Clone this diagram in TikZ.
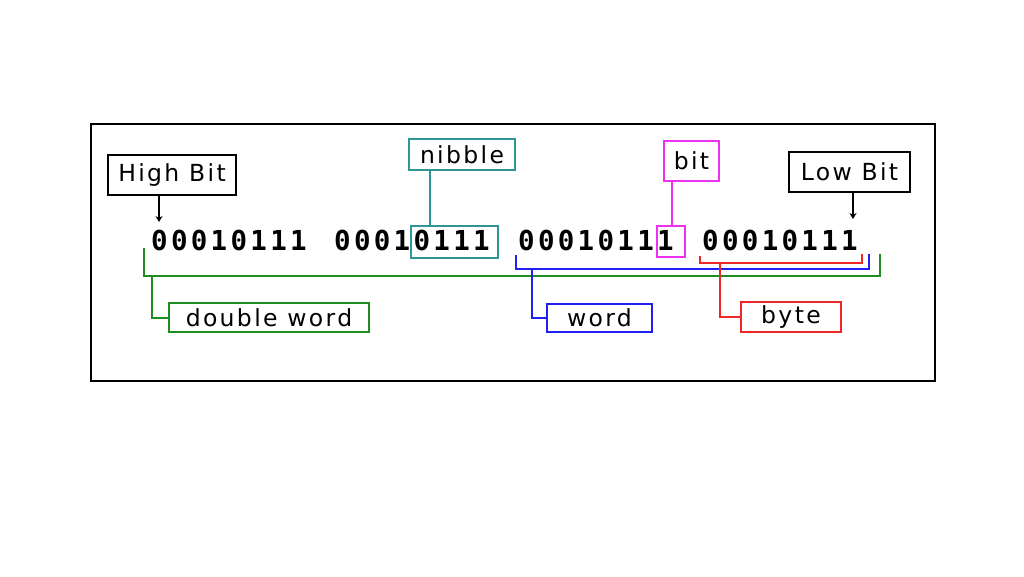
\documentclass[tikz,border=0pt]{standalone}
\usepackage{fontspec}
\setmainfont{DejaVu Sans}[LetterSpace=10]
\newfontfamily\digitfont{DejaVu Sans Mono}[LetterSpace=12]
\usetikzlibrary{arrows.meta}
\definecolor{cgreen}{HTML}{1E8C1E}
\definecolor{cteal}{HTML}{2E9696}
\definecolor{cmag}{HTML}{F030F0}
\definecolor{cblue}{HTML}{2020F0}
\definecolor{cred}{HTML}{F02828}
\tikzset{
  lbl/.style={draw=#1, line width=2pt, inner sep=0pt, font=\fontsize{23.5}{28}\selectfont, text=black},
  conn/.style={draw=#1, line width=2pt},
  digits/.style={inner sep=0pt, anchor=base west, font=\digitfont\bfseries\fontsize{27.5}{30}\selectfont},
  hl/.style={draw=#1, line width=2pt, inner sep=0pt},
  pointer/.style={draw=black, line width=1.2pt, -{Stealth[length=6pt,width=7pt]}}
}
\begin{document}
\begin{tikzpicture}[x=1pt,y=-1pt]
\useasboundingbox (0,0) rectangle (1024,576);
\fill[white] (0,0) rectangle (1024,576);
\draw[line width=2pt] (91,124) rectangle (935,381);
% digit groups
\node[digits] (g1) at (151,250) {00010111};
\node[digits] (g2) at (334,250) {00010111};
\node[digits] (g3) at (518,250) {00010111};
\node[digits] (g4) at (702,250) {00010111};
% labels
\node[lbl=black, minimum width=128pt, minimum height=40pt] (hb) at (172,175) {High Bit};
\node[lbl=black, minimum width=121pt, minimum height=40pt] (lb) at (849.5,172) {Low Bit};
\node[lbl=cteal, minimum width=106pt, minimum height=31pt] (nib) at (462,154.5) {nibble};
\node[lbl=cmag, minimum width=55pt, minimum height=40pt] (bitl) at (691.5,161) {bit};
\node[lbl=cgreen, minimum width=200pt, minimum height=29pt] (dw) at (269,317.5) {double word};
\node[lbl=cblue, minimum width=105pt, minimum height=28pt] (wd) at (599.5,318) {word};
\node[lbl=cred, minimum width=100pt, minimum height=30pt] (by) at (791,317) {byte};
% highlight boxes
\node[hl=cteal, minimum width=87pt, minimum height=32pt] (nibbox) at (454.5,242) {};
\node[hl=cmag, minimum width=28pt, minimum height=31pt] (bitbox) at (671,241.5) {};
% pointers
\coordinate (hbx) at (159,0);
\coordinate (hbt) at (159,222);
\draw[pointer] (hb.south -| hbx) -- (hbt);
\coordinate (lbx) at (853,0);
\coordinate (lbt) at (853,219);
\draw[pointer] (lb.south -| lbx) -- (lbt);
\coordinate (nx) at (430,0);
\draw[conn=cteal] (nib.south -| nx) -- (nibbox.north -| nx);
\coordinate (bx) at (672,0);
\draw[conn=cmag] (bitl.south -| bx) -- (bitbox.north -| bx);
% brackets
\coordinate (gA) at (144,248);
\coordinate (gB) at (880,254);
\coordinate (gy) at (0,276);
\draw[conn=cgreen] (gA) -- (gA |- gy) -- (gB |- gy) -- (gB);
\coordinate (gl) at (152,276);
\draw[conn=cgreen] (gl) |- (dw.west);
\coordinate (bA) at (516,255);
\coordinate (bB) at (869,254);
\coordinate (by0) at (0,269);
\draw[conn=cblue] (bA) -- (bA |- by0) -- (bB |- by0) -- (bB);
\coordinate (bl) at (532,269);
\draw[conn=cblue] (bl) |- (wd.west);
\coordinate (rA) at (700,256);
\coordinate (rB) at (862,254);
\coordinate (ry) at (0,263);
\draw[conn=cred] (rA) -- (rA |- ry) -- (rB |- ry) -- (rB);
\coordinate (rl) at (720,263);
\draw[conn=cred] (rl) |- (by.west);
\end{tikzpicture}
\end{document}
